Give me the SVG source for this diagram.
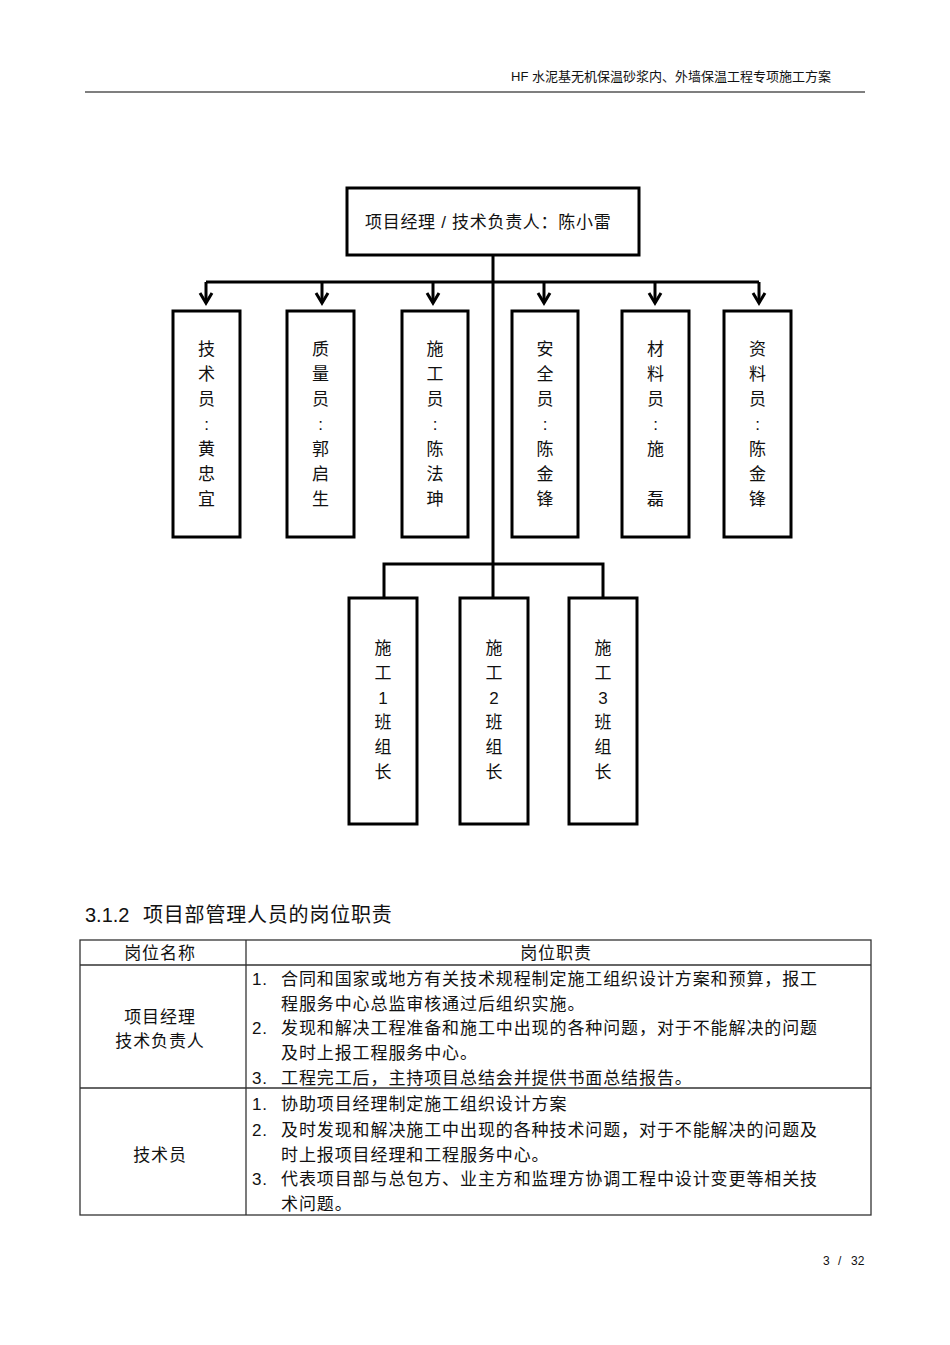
<svg xmlns="http://www.w3.org/2000/svg" width="950" height="1345" viewBox="0 0 950 1345">
<defs>
<style>
text{font-family:"Liberation Sans","Noto Sans CJK SC",sans-serif;fill:#111;}
.hdr{font-size:13px;}
.t17{font-size:17px;letter-spacing:0.7px;}
.v{font-size:17px;text-anchor:middle;}
.box{fill:#fff;stroke:#000;stroke-width:3;}
.conn{fill:none;stroke:#000;stroke-width:3;}
.tb{fill:none;stroke:#333;stroke-width:1.3;}
.tt{font-size:17px;letter-spacing:0.9px;}
.c{text-anchor:middle;}
</style>
</defs>
<rect width="950" height="1345" fill="#fff"/>
<g id="header">
<text class="hdr" x="831" y="81" text-anchor="end">HF 水泥基无机保温砂浆内、外墙保温工程专项施工方案</text>
<line x1="85" y1="92" x2="865" y2="92" stroke="#000" stroke-width="1.2"/>
</g>
<g id="connectors">
<path class="conn" d="M493,255 V598"/>
<path class="conn" d="M206,282 H759"/>
<path class="conn" d="M206,282 V303"/>
<path class="conn" d="M322,282 V303"/>
<path class="conn" d="M433,282 V303"/>
<path class="conn" d="M544,282 V303"/>
<path class="conn" d="M655,282 V303"/>
<path class="conn" d="M759,282 V303"/>
<g fill="none" stroke="#000" stroke-width="3">
<path d="M200,293 L206,303 L212,293"/>
<path d="M316,293 L322,303 L328,293"/>
<path d="M427,293 L433,303 L439,293"/>
<path d="M538,293 L544,303 L550,293"/>
<path d="M649,293 L655,303 L661,293"/>
<path d="M753,293 L759,303 L765,293"/>
</g>
<path class="conn" d="M384,598 V564 H603 V598"/>
</g>
<g id="node-pm">
<rect class="box" x="347" y="188" width="292" height="67"/>
<text class="t17" x="365" y="228">项目经理 / 技术负责人：陈小雷</text>
</g>
<g id="node-jishuyuan">
<rect class="box" x="173" y="311" width="67" height="226"/>
<text class="v" x="206.5" y="355">技</text><text class="v" x="206.5" y="380">术</text><text class="v" x="206.5" y="405">员</text><text class="v" x="206.5" y="430">:</text><text class="v" x="206.5" y="455">黄</text><text class="v" x="206.5" y="480">忠</text><text class="v" x="206.5" y="505">宜</text>
</g>
<g id="node-zhiliangyuan">
<rect class="box" x="287" y="311" width="67" height="226"/>
<text class="v" x="320.5" y="355">质</text><text class="v" x="320.5" y="380">量</text><text class="v" x="320.5" y="405">员</text><text class="v" x="320.5" y="430">:</text><text class="v" x="320.5" y="455">郭</text><text class="v" x="320.5" y="480">启</text><text class="v" x="320.5" y="505">生</text>
</g>
<g id="node-shigongyuan">
<rect class="box" x="402" y="311" width="66" height="226"/>
<text class="v" x="435" y="355">施</text><text class="v" x="435" y="380">工</text><text class="v" x="435" y="405">员</text><text class="v" x="435" y="430">:</text><text class="v" x="435" y="455">陈</text><text class="v" x="435" y="480">法</text><text class="v" x="435" y="505">珅</text>
</g>
<g id="node-anquanyuan">
<rect class="box" x="512" y="311" width="66" height="226"/>
<text class="v" x="545" y="355">安</text><text class="v" x="545" y="380">全</text><text class="v" x="545" y="405">员</text><text class="v" x="545" y="430">:</text><text class="v" x="545" y="455">陈</text><text class="v" x="545" y="480">金</text><text class="v" x="545" y="505">锋</text>
</g>
<g id="node-cailiaoyuan">
<rect class="box" x="622" y="311" width="67" height="226"/>
<text class="v" x="655.5" y="355">材</text><text class="v" x="655.5" y="380">料</text><text class="v" x="655.5" y="405">员</text><text class="v" x="655.5" y="430">:</text><text class="v" x="655.5" y="455">施</text><text class="v" x="655.5" y="505">磊</text>
</g>
<g id="node-ziliaoyuan">
<rect class="box" x="724" y="311" width="67" height="226"/>
<text class="v" x="757.5" y="355">资</text><text class="v" x="757.5" y="380">料</text><text class="v" x="757.5" y="405">员</text><text class="v" x="757.5" y="430">:</text><text class="v" x="757.5" y="455">陈</text><text class="v" x="757.5" y="480">金</text><text class="v" x="757.5" y="505">锋</text>
</g>
<g id="node-team1">
<rect class="box" x="349" y="598" width="68" height="226"/>
<text class="v" x="383" y="654">施</text><text class="v" x="383" y="679">工</text><text class="v" x="383" y="704">1</text><text class="v" x="383" y="728">班</text><text class="v" x="383" y="753">组</text><text class="v" x="383" y="778">长</text>
</g>
<g id="node-team2">
<rect class="box" x="460" y="598" width="68" height="226"/>
<text class="v" x="494" y="654">施</text><text class="v" x="494" y="679">工</text><text class="v" x="494" y="704">2</text><text class="v" x="494" y="728">班</text><text class="v" x="494" y="753">组</text><text class="v" x="494" y="778">长</text>
</g>
<g id="node-team3">
<rect class="box" x="569" y="598" width="68" height="226"/>
<text class="v" x="603" y="654">施</text><text class="v" x="603" y="679">工</text><text class="v" x="603" y="704">3</text><text class="v" x="603" y="728">班</text><text class="v" x="603" y="753">组</text><text class="v" x="603" y="778">长</text>
</g>
<g id="section-heading">
<text x="85" y="922" style="font-size:20px">3.1.2</text>
<text x="143" y="922" style="font-size:20px;letter-spacing:0.8px">项目部管理人员的岗位职责</text>
</g>
<g id="table">
<rect class="tb" x="80" y="940" width="791" height="275"/>
<line class="tb" x1="246" y1="940" x2="246" y2="1215"/>
<line class="tb" x1="80" y1="965" x2="871" y2="965"/>
<line class="tb" x1="80" y1="1088" x2="871" y2="1088"/>
<text class="tt c" x="160" y="959">岗位名称</text>
<text class="tt c" x="556" y="959">岗位职责</text>
<text class="tt c" x="160" y="1023">项目经理</text>
<text class="tt c" x="160" y="1047">技术负责人</text>
<text class="tt" x="252" y="985">1.</text>
<text class="tt" x="281" y="985">合同和国家或地方有关技术规程制定施工组织设计方案和预算，报工</text>
<text class="tt" x="281" y="1010">程服务中心总监审核通过后组织实施。</text>
<text class="tt" x="252" y="1034">2.</text>
<text class="tt" x="281" y="1034">发现和解决工程准备和施工中出现的各种问题，对于不能解决的问题</text>
<text class="tt" x="281" y="1059">及时上报工程服务中心。</text>
<text class="tt" x="252" y="1084">3.</text>
<text class="tt" x="281" y="1084">工程完工后，主持项目总结会并提供书面总结报告。</text>
<text class="tt c" x="160" y="1161">技术员</text>
<text class="tt" x="252" y="1110">1.</text>
<text class="tt" x="281" y="1110">协助项目经理制定施工组织设计方案</text>
<text class="tt" x="252" y="1136">2.</text>
<text class="tt" x="281" y="1136">及时发现和解决施工中出现的各种技术问题，对于不能解决的问题及</text>
<text class="tt" x="281" y="1161">时上报项目经理和工程服务中心。</text>
<text class="tt" x="252" y="1185">3.</text>
<text class="tt" x="281" y="1185">代表项目部与总包方、业主方和监理方协调工程中设计变更等相关技</text>
<text class="tt" x="281" y="1210">术问题。</text>
</g>
<g id="footer" style="font-size:12px">
<text x="823" y="1265">3</text>
<text x="838" y="1265">/</text>
<text x="851" y="1265">32</text>
</g>
</svg>
